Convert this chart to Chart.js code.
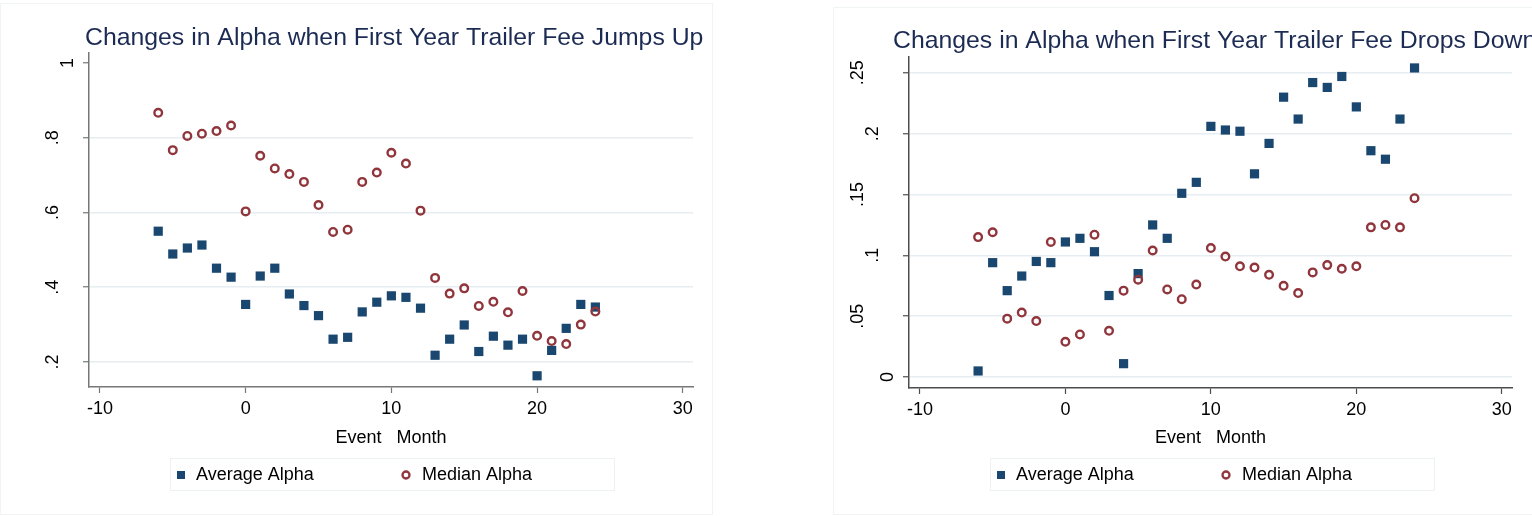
<!DOCTYPE html>
<html>
<head>
<meta charset="utf-8">
<script src="https://cdn.jsdelivr.net/npm/chart.js@4.4.1/dist/chart.umd.min.js"></script>
<style>
  body { margin: 0; background: #fff; width: 1532px; height: 516px; overflow: hidden; }
  .frame { position: absolute; border: 1px solid #f0f4f5; }
  canvas { position: absolute; top: 0; }
</style>
</head>
<body>
<div class="frame" style="left:0;top:3px;width:711px;height:510px"></div>
<div class="frame" style="left:833px;top:7px;width:710px;height:506px"></div>
<canvas id="upChart" width="712" height="516" style="left:0"></canvas>
<canvas id="downChart" width="812" height="516" style="left:720px"></canvas>
<script>
// event months, -6 .. 24
const months = [-6, -5, -4, -3, -2, -1, 0, 1, 2, 3, 4, 5, 6, 7, 8, 9, 10,
  11, 12, 13, 14, 15, 16, 17, 18, 19, 20, 21, 22, 23, 24];

// fee jumps up
const upAverage = [0.550, 0.489, 0.505, 0.513, 0.451, 0.427, 0.354, 0.430, 0.451, 0.382, 0.351,
  0.324, 0.261, 0.266, 0.334, 0.360, 0.377, 0.373, 0.344, 0.218, 0.261, 0.299, 0.228, 0.269,
  0.245, 0.261, 0.163, 0.231, 0.290, 0.354, 0.347];
const upMedian = [0.867, 0.767, 0.805, 0.811, 0.818, 0.833, 0.603, 0.752, 0.718, 0.703, 0.682,
  0.620, 0.548, 0.554, 0.682, 0.707, 0.760, 0.731, 0.605, 0.425, 0.383, 0.397, 0.350, 0.361,
  0.333, 0.390, 0.270, 0.256, 0.248, 0.300, 0.335];

// fee drops down
const downAverage = [0.005, 0.094, 0.071, 0.083, 0.095, 0.094, 0.111, 0.114, 0.103, 0.067, 0.011,
  0.085, 0.125, 0.114, 0.151, 0.160, 0.206, 0.203, 0.202, 0.167, 0.192, 0.230, 0.212, 0.242,
  0.238, 0.247, 0.222, 0.186, 0.179, 0.212, 0.254];
const downMedian = [0.115, 0.119, 0.048, 0.053, 0.046, 0.111, 0.029, 0.035, 0.117, 0.038, 0.071,
  0.080, 0.104, 0.072, 0.064, 0.076, 0.106, 0.099, 0.091, 0.090, 0.084, 0.075, 0.069, 0.086,
  0.092, 0.089, 0.091, 0.123, 0.125, 0.123, 0.147];

// ticks
const xTicks = [-10, 0, 10, 20, 30];
const upYTicks = [0.2, 0.4, 0.6, 0.8, 1];
const upYLabels = [".2", ".4", ".6", ".8", "1"];
const downYTicks = [0, 0.05, 0.1, 0.15, 0.2, 0.25];
const downYLabels = ["0", ".05", ".1", ".15", ".2", ".25"];

const seriesNames = ["Average Alpha", "Median Alpha"];

const NAVY = "#1a476f";
const CRANBERRY = "#90353b";
const GRID = "#e6eef1";
const FONT = '"Liberation Sans", Arial, sans-serif';

function drawSquare(ctx, x, y, s) {
  ctx.fillStyle = NAVY;
  ctx.fillRect(x - s / 2, y - s / 2, s, s);
}

function drawRing(ctx, x, y, r) {
  ctx.strokeStyle = CRANBERRY;
  ctx.lineWidth = 2.3;
  ctx.beginPath();
  ctx.arc(x, y, r, 0, Math.PI * 2);
  ctx.stroke();
}

/* title, rotated y labels, axis title, boxed legend */
const stataDecor = {
  id: "stataDecor",
  afterDraw(chart, args, o) {
    const { ctx, chartArea, scales } = chart;
    ctx.save();

    ctx.font = `18px ${FONT}`;
    ctx.fillStyle = "#000";
    ctx.textAlign = "center";
    ctx.textBaseline = "middle";
    o.yTicks.forEach((v, i) => {
      const label = o.yLabels[i];
      const y = scales.y.getPixelForValue(v);
      const x = chartArea.left - (6 + 15 * label.length);
      ctx.save();
      ctx.translate(x, y);
      ctx.rotate(-Math.PI / 2);
      ctx.fillText(label, 0, 0);
      ctx.restore();
    });

    ctx.fillText("Event   Month", (chartArea.left + chartArea.right) / 2, 438);

    ctx.font = `24.8px ${FONT}`;
    ctx.fillStyle = "#1c2b53";
    ctx.textAlign = "left";
    ctx.textBaseline = "alphabetic";
    ctx.fillText(o.title, o.titleX, o.titleY);

    // legend
    const lx = o.legendX;
    ctx.strokeStyle = "#edf2f4";
    ctx.lineWidth = 1;
    ctx.strokeRect(lx + 0.5, 458.5, 444, 32);
    drawSquare(ctx, lx + 11, 475, 8);
    drawRing(ctx, lx + 236, 475, 3.5);
    ctx.font = `18px ${FONT}`;
    ctx.fillStyle = "#000";
    ctx.textBaseline = "middle";
    ctx.fillText(seriesNames[0], lx + 26, 475);
    ctx.fillText(seriesNames[1], lx + 252, 475);

    ctx.restore();
  }
};

function makeChart(id, cfg) {
  const canvas = document.getElementById(id);
  const toPoints = vals => vals.map((v, i) => ({ x: months[i], y: v }));

  return new Chart(canvas, {
    type: "scatter",
    data: {
      datasets: [
        {
          label: seriesNames[0],
          data: toPoints(cfg.average),
          pointStyle: "rect",
          pointRadius: 6.5,
          pointBackgroundColor: NAVY,
          pointBorderColor: NAVY,
          pointBorderWidth: 0,
          order: 1
        },
        {
          label: seriesNames[1],
          data: toPoints(cfg.median),
          pointStyle: "circle",
          pointRadius: 3.8,
          pointBackgroundColor: "rgba(0,0,0,0)",
          pointBorderColor: CRANBERRY,
          pointBorderWidth: 2.4,
          order: 0
        }
      ]
    },
    options: {
      responsive: false,
      animation: false,
      devicePixelRatio: 1,
      layout: { padding: { left: 0, right: cfg.padRight, top: cfg.padTop, bottom: 0 } },
      plugins: {
        legend: { display: false },
        tooltip: { enabled: false },
        stataDecor: cfg.decor
      },
      scales: {
        x: {
          type: "linear",
          min: -10.75,
          max: 30.7,
          afterBuildTicks: s => { s.ticks = xTicks.map(v => ({ value: v })); },
          afterFit: s => { s.height = cfg.xHeight; },
          border: { display: true, color: cfg.axisColor, width: 1.5 },
          grid: {
            drawOnChartArea: false,
            drawTicks: true,
            tickLength: 6,
            tickColor: cfg.axisColor,
            tickWidth: 1.2
          },
          ticks: {
            color: "#000",
            padding: 5,
            maxRotation: 0,
            font: { family: FONT, size: 18 }
          }
        },
        y: {
          type: "linear",
          min: cfg.yMin,
          max: cfg.yMax,
          afterBuildTicks: s => { s.ticks = cfg.decor.yTicks.map(v => ({ value: v })); },
          afterFit: s => { s.width = cfg.yWidth; },
          border: { display: true, color: cfg.axisColor, width: 1.5 },
          grid: {
            color: c => (c.tick && cfg.noGridAt.includes(c.tick.value)) ? "rgba(0,0,0,0)" : GRID,
            lineWidth: 1.5,
            drawTicks: true,
            tickLength: 6,
            tickColor: cfg.axisColor,
            tickWidth: 1.2
          },
          ticks: { display: false }
        }
      }
    },
    plugins: [stataDecor]
  });
}

makeChart("upChart", {
  average: upAverage,
  median: upMedian,
  yMin: 0.133,
  yMax: 1.027,
  yWidth: 89,
  xHeight: 129,
  padTop: 53,
  padRight: 19,
  axisColor: "#777",
  noGridAt: [1],
  decor: {
    title: "Changes in Alpha when First Year Trailer Fee Jumps Up",
    titleX: 85,
    titleY: 45,
    yTicks: upYTicks,
    yLabels: upYLabels,
    legendX: 170
  }
});

makeChart("downChart", {
  average: downAverage,
  median: downMedian,
  yMin: -0.009,
  yMax: 0.263,
  yWidth: 189,
  xHeight: 128,
  padTop: 57,
  padRight: 20,
  axisColor: "#4d4d4d",
  noGridAt: [],
  decor: {
    title: "Changes in Alpha when First Year Trailer Fee Drops Down",
    titleX: 173,
    titleY: 48,
    yTicks: downYTicks,
    yLabels: downYLabels,
    legendX: 270
  }
});
</script>
</body>
</html>
